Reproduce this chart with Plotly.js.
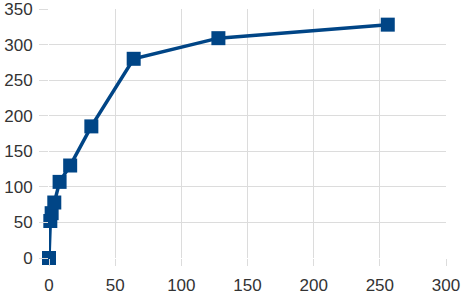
<!DOCTYPE html>
<html>
<head>
<meta charset="utf-8">
<script src="https://cdn.plot.ly/plotly-3.0.1.min.js"></script>
<style>html,body{margin:0;padding:0;background:#fff;}#chart{width:463px;height:305px;}</style>
</head>
<body>
<div id="chart"></div>
<script>
var xValues = [0, 1, 2, 4, 8, 16, 32, 64, 128, 256];
var yValues = [0, 52, 63, 78, 107, 130, 185, 280, 309, 328];
var xTicks = [0, 50, 100, 150, 200, 250, 300];
var yTicks = [0, 50, 100, 150, 200, 250, 300, 350];

var trace = {
  x: xValues,
  y: yValues,
  type: 'scatter',
  mode: 'lines+markers',
  line: {color: '#004586', width: 3.5},
  marker: {symbol: 'square', size: 14, color: '#004586'},
  cliponaxis: false,
  hoverinfo: 'none'
};

var layout = {
  width: 463,
  height: 305,
  margin: {l: 49, r: 17, t: 9, b: 47},
  paper_bgcolor: '#fff',
  plot_bgcolor: '#fff',
  showlegend: false,
  font: {family: 'Liberation Sans, Arial, sans-serif', size: 17, color: '#333'},
  xaxis: {
    range: [0, 300],
    tickvals: xTicks,
    ticktext: xTicks.map(String),
    showgrid: true,
    gridcolor: '#dcdcdc',
    gridwidth: 1,
    zeroline: false,
    showline: false,
    ticks: 'outside',
    ticklen: 7,
    tickcolor: '#dcdcdc',
    ticklabelstandoff: 5,
    ticklabeloverflow: 'allow',
    tickfont: {size: 17, color: '#333'}
  },
  yaxis: {
    range: [0, 350],
    tickvals: yTicks,
    ticktext: yTicks.map(String),
    showgrid: true,
    gridcolor: '#dcdcdc',
    gridwidth: 1,
    zeroline: false,
    showline: false,
    ticks: 'outside',
    ticklen: 9,
    tickcolor: '#dcdcdc',
    ticklabelstandoff: 3,
    ticklabeloverflow: 'allow',
    tickfont: {size: 17, color: '#333'}
  }
};

Plotly.newPlot('chart', [trace], layout, {staticPlot: true, displayModeBar: false});
</script>
</body>
</html>
